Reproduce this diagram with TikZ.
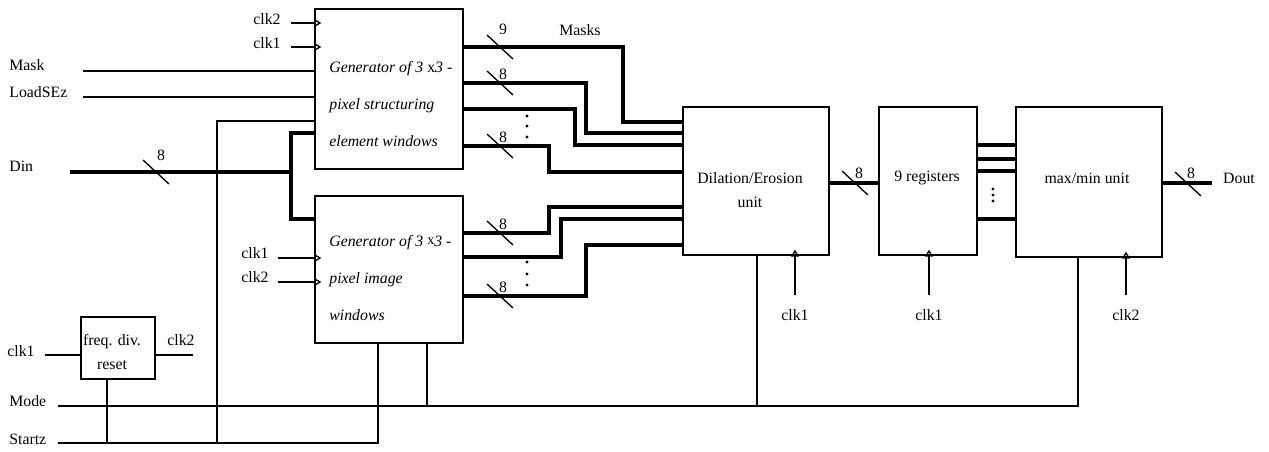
\documentclass[tikz,border=0pt]{standalone}
\usepackage{fontspec}
\setmainfont{Liberation Serif}
\usetikzlibrary{arrows.meta,calc}

% slash with bus width: point, name, text (optional label offset)
\newcommand\busmark[4][3,-9]{%
  \draw[wire] ($(#2)+(-13,-12)$) -- ($(#2)+(13,12)$);
  \node[lbl] (#3) at ($(#2)+(#1)$) {#4};}

\begin{document}
\begin{tikzpicture}[
    x=0.02cm, y=-0.02cm, font=\fontsize{9}{11}\selectfont,
    wire/.style={line width=0.75pt},
    bus/.style={line width=2.2pt},
    block/.style={draw,line width=0.75pt,inner sep=0pt},
    clkin/.style={wire,-{Triangle[open,length=4pt,width=4.5pt,line width=0.75pt]}},
    lbl/.style={inner sep=0pt},
    boxtxt/.style={font=\fontsize{9}{21}\selectfont\itshape,align=left,anchor=west,inner sep=0pt},
]
\useasboundingbox (0,0) rectangle (1269,451);

% ---------- blocks ----------
\node[block,minimum width=2.96cm,minimum height=3.2cm]  (gse)  at (389,89) {};
\node[block,minimum width=2.96cm,minimum height=2.94cm] (giw)  at (389,269.5) {};
\node[block,minimum width=2.92cm,minimum height=2.96cm] (deu)  at (756,181) {};
\node[block,minimum width=1.96cm,minimum height=2.96cm] (reg)  at (928,181) {};
\node[block,minimum width=2.92cm,minimum height=3.0cm]  (mmu)  at (1089,182) {};
\node[block,minimum width=1.48cm,minimum height=1.24cm] (fdiv) at (118,348) {};

\node[boxtxt] (gsetxt) at (329,104) {Generator of 3 {\upshape x}3 -\\ pixel structuring\\ element windows};
\node[boxtxt] (giwtxt) at (329,278) {Generator of 3 {\upshape\raisebox{1pt}{\footnotesize x}}3 -\\ pixel image\\ windows};
\node[lbl,align=center,font=\fontsize{9}{13.6}\selectfont] (deutxt) at (750,190) {Dilation/Erosion\\unit};
\node[lbl] (regtxt) at (927,178) {9 registers};
\node[lbl] (mmutxt) at (1087,178) {max/min unit};
\node[lbl,align=center,font=\fontsize{9}{14.2}\selectfont] (fdivtxt) at (112,352) {freq. div.\\reset};

% ---------- primary inputs ----------
\coordinate (maskin)  at (83,71);
\coordinate (loadin)  at (83,97);
\coordinate (dinin)   at (70,172);
\coordinate (dinj)    at (291,172);
\coordinate (modein)  at (58,406);
\coordinate (startin) at (58,443);
\coordinate (fclkin)  at (45,355);
\coordinate (fclkout) at (193,355);
\coordinate (doutend) at (1212,183);

\node[lbl,anchor=west] (mask)  at (9,65)  {Mask};
\node[lbl,anchor=west] (load)  at (9,92)  {LoadSEz};
\node[lbl,anchor=west] (din)   at (9,166) {Din};
\node[lbl,anchor=west] (mode)  at (9,401) {Mode};
\node[lbl,anchor=west] (start) at (9,439) {Startz};
\node[lbl] (fclk1) at (21,351)  {clk1};
\node[lbl] (fclk2) at (181,340) {clk2};
\node[lbl] (masks) at (580,30)  {Masks};
\node[lbl] (dout)  at (1239,178) {Dout};

\draw[wire] (maskin) -- (maskin -| gse.west);
\draw[wire] (loadin) -- (loadin -| gse.west);
\draw[wire] (gse.west |- 0,121) -| (startin -| 217,0);
\draw[bus] (dinin) -- (dinj);
\draw[bus] (gse.west |- 0,133) -| (dinj) |- (giw.west |- 0,219);
\busmark[5,-17]{156,172}{wdin}{8}

\draw[wire] (fclkin) -- (fclkin -| fdiv.west);
\draw[wire] (fdiv.east |- fclkout) -- (fclkout);
\draw[wire] (fdiv.south -| 107,0) -- (startin -| 107,0);

\draw[wire] (startin) -| (giw.south -| 378,0);
\draw[wire] (modein) -| (mmu.south -| 1078,0);
\draw[wire] (giw.south -| 427,0) -- (modein -| 427,0);
\draw[wire] (deu.south -| 757,0) -- (modein -| 757,0);

% ---------- clock inputs ----------
\foreach \y/\nm in {23/clk2, 47/clk1}{
  \node[lbl] (g1\nm) at (267,\y-4) {\nm};
  \draw[clkin] (291,\y) -- ($(gse.west |- 0,\y)+(7,0)$);
}
\foreach \y/\nm in {258/clk1, 282/clk2}{
  \node[lbl] (g2\nm) at (255,\y-5) {\nm};
  \draw[clkin] (278,\y) -- ($(giw.west |- 0,\y)+(7,0)$);
}
\foreach \blk/\x/\nm in {deu/795/clk1, reg/929/clk1, mmu/1126/clk2}{
  \node[lbl] (\blk-clk) at (\x,315) {\nm};
  \draw[clkin] (\x,295) -- ($(\blk.south -| \x,0)+(0,-6)$);
}

% ---------- window buses ----------
\foreach \ya/\xb/\yb in {47/623/122, 83/586/133, 109/575/145, 146/549/172}
  \draw[bus] (gse.east |- 0,\ya) -| (\xb,\yb) -- (deu.west |- 0,\yb);
\foreach \ya/\xb/\yb in {233/549/207, 257/561/219, 296/586/245}
  \draw[bus] (giw.east |- 0,\ya) -| (\xb,\yb) -- (deu.west |- 0,\yb);

\busmark[3,-18]{500,47}{w1}{9}
\busmark{500,83}{w2}{8}
\busmark{500,146}{w3}{8}
\busmark{500,233}{w4}{8}
\busmark{500,296}{w5}{8}

\foreach \y in {116,126,137}{ \fill (527,\y) circle[radius=0.9pt]; }
\foreach \y in {262,274,285}{ \fill (527,\y) circle[radius=0.9pt]; }

% ---------- datapath ----------
\draw[bus] (deu.east |- 0,183) -- (reg.west |- 0,183);
\busmark[4,-10]{855,183}{wde}{8}
\foreach \y in {145,159,171,219}
  \draw[bus] (reg.east |- 0,\y) -- (mmu.west |- 0,\y);
\foreach \y in {189,195,201}{ \fill (993,\y) circle[radius=0.9pt]; }
\draw[bus] (mmu.east |- 0,183) -- (doutend);
\busmark[3,-11]{1188,184}{wout}{8}

\end{tikzpicture}
\end{document}
